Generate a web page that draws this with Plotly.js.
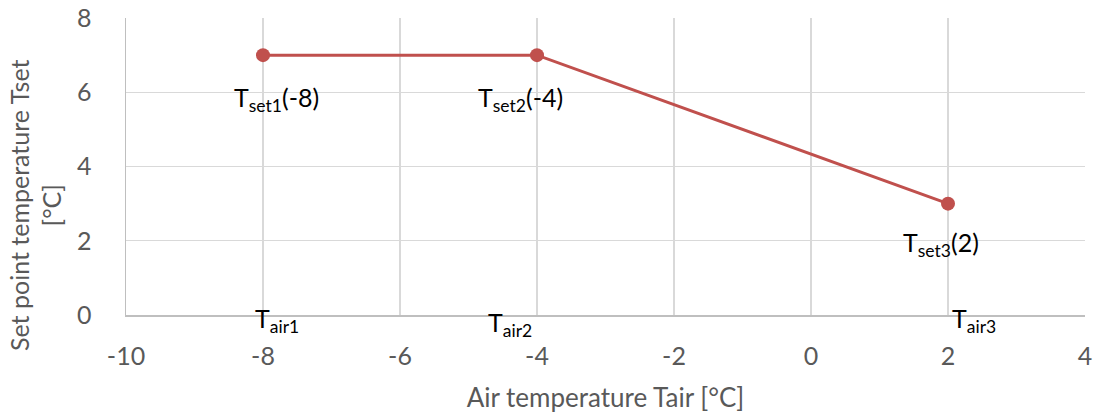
<!DOCTYPE html>
<html>
<head>
<meta charset="utf-8">
<script src="https://cdn.plot.ly/plotly-3.0.1.min.js"></script>
<style>
html,body{margin:0;padding:0;background:#fff;}
#chart{width:1097px;height:414px;}
</style>
</head>
<body>
<div id="chart"></div>
<script>
// Data
const airTemps = [-8, -4, 2];
const setTemps = [7, 7, 3];
const setLabels = ['T<sub>set1</sub>(-8)', 'T<sub>set2</sub>(-4)', 'T<sub>set3</sub>(2)'];
const airLabels = ['T<sub>air1</sub>', 'T<sub>air2</sub>', 'T<sub>air3</sub>'];
const xTicks = [-10, -8, -6, -4, -2, 0, 2, 4];
const yTicks = [0, 2, 4, 6, 8];

// label offsets (pixels)
const setShiftX = [13, -17, -7];
const setShiftY = [-44, -44, -40];
const airShiftX = [14, -27, 26];
const airShiftY = [-5, -9, -5];

const FONT = 'Lato, "Open Sans", sans-serif';
const RED = '#c0504d';

const trace = {
  x: airTemps,
  y: setTemps,
  type: 'scatter',
  mode: 'lines+markers',
  line: {color: RED, width: 3},
  marker: {color: RED, size: 14},
  hoverinfo: 'skip',
  cliponaxis: false
};

const annotations = [];
airTemps.forEach((x, i) => {
  annotations.push({
    x: x, y: setTemps[i], xref: 'x', yref: 'y',
    text: setLabels[i], showarrow: false,
    xanchor: 'center', yanchor: 'middle',
    xshift: setShiftX[i], yshift: setShiftY[i],
    font: {family: FONT, size: 25, color: '#000'}
  });
  annotations.push({
    x: x, y: 0, xref: 'x', yref: 'y',
    text: airLabels[i], showarrow: false,
    xanchor: 'center', yanchor: 'middle',
    xshift: airShiftX[i], yshift: airShiftY[i],
    font: {family: FONT, size: 25, color: '#000'}
  });
});
annotations.push({
  xref: 'paper', yref: 'paper', x: -0.095, y: 0.37,
  text: 'Set point temperature Tset<br>[°C]', showarrow: false,
  textangle: -90, xanchor: 'center', yanchor: 'middle',
  font: {family: FONT, size: 25, color: '#595959'}
});

const layout = {
  width: 1097, height: 414,
  margin: {l: 126, r: 12, t: 18, b: 99},
  paper_bgcolor: '#fff', plot_bgcolor: '#fff',
  showlegend: false,
  font: {family: FONT, color: '#595959', size: 25},
  xaxis: {
    range: [-10, 4], tickvals: xTicks, ticktext: xTicks.map(String),
    showgrid: true, gridcolor: '#d9d9d9', gridwidth: 1.3,
    zeroline: false, showline: true, linecolor: '#bfbfbf', linewidth: 1.5,
    ticks: '', ticklabelstandoff: 18,
    tickfont: {family: FONT, size: 25, color: '#595959'},
    title: {text: 'Air temperature Tair [°C]', standoff: 20,
            font: {family: FONT, size: 26, color: '#595959'}}
  },
  yaxis: {
    range: [0, 8], tickvals: yTicks, ticktext: yTicks.map(String),
    showgrid: true, gridcolor: '#d9d9d9', gridwidth: 1.3,
    zeroline: false, showline: true, linecolor: '#bfbfbf', linewidth: 1.5,
    ticks: '', ticklabelstandoff: 28,
    tickfont: {family: FONT, size: 25, color: '#595959'}
  },
  annotations: annotations
};

Plotly.newPlot('chart', [trace], layout, {staticPlot: true, displayModeBar: false});
</script>
</body>
</html>
